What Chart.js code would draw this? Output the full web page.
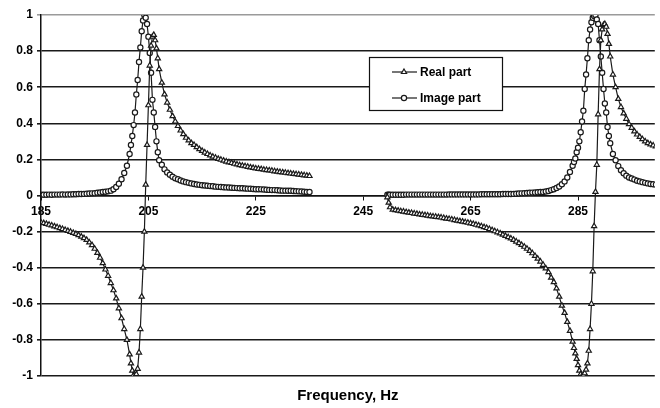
<!DOCTYPE html>
<html>
<head>
<meta charset="utf-8">
<title>Frequency response</title>
<script src="https://cdn.jsdelivr.net/npm/chart.js"></script>
<style>
  html, body { margin: 0; padding: 0; background: #fff; }
  #wrap { width: 660px; height: 408px; position: relative; }
</style>
</head>
<body>
<div id="wrap"><canvas id="chart"></canvas></div>
<script>
'use strict';

/* ---- data: two resonance sweeps, shared frequency grid per sweep ---------- */
const freqA = [
  185, 185.5, 186, 186.5, 187, 187.5, 188, 188.5, 189, 189.5,
  190, 190.5, 191, 191.5, 192, 192.5, 193, 193.5, 194, 194.5,
  195, 195.5, 196, 196.5, 197, 197.5, 198, 198.5, 199, 199.5,
  200, 200.5, 201, 201.5,
  201.75, 202, 202.25, 202.5, 202.75, 203, 203.25, 203.5, 203.75, 204,
  204.25, 204.5, 204.75, 205, 205.25, 205.5, 205.75, 206, 206.25, 206.5,
  206.75, 207,
  207.5, 208, 208.5, 209, 209.5, 210, 210.5, 211, 211.5, 212,
  212.5, 213, 213.5, 214, 214.5, 215, 215.5, 216, 216.5, 217,
  217.5, 218, 218.5, 219, 219.5, 220, 220.5, 221, 221.5, 222,
  222.5, 223, 223.5, 224, 224.5, 225, 225.5, 226, 226.5, 227,
  227.5, 228, 228.5, 229, 229.5, 230, 230.5, 231, 231.5, 232,
  232.5, 233, 233.5, 234, 234.5, 235
];
const realA = [
  -0.150, -0.153, -0.157, -0.162, -0.166, -0.171, -0.176, -0.181, -0.186, -0.191,
  -0.196, -0.201, -0.207, -0.213, -0.220, -0.228, -0.236, -0.246, -0.260, -0.275,
  -0.295, -0.318, -0.345, -0.375, -0.410, -0.445, -0.485, -0.525, -0.570, -0.625,
  -0.680, -0.740, -0.800, -0.880,
  -0.930, -0.970, -0.995, -1.000, -0.990, -0.960, -0.870, -0.740, -0.560, -0.400,
  -0.200, 0.060, 0.280, 0.500, 0.720, 0.830, 0.880, 0.890, 0.860, 0.815,
  0.760, 0.700,
  0.625, 0.560, 0.515, 0.475, 0.440, 0.410, 0.385, 0.360, 0.340, 0.320,
  0.305, 0.290, 0.280, 0.268, 0.257, 0.247, 0.238, 0.230, 0.222, 0.215,
  0.209, 0.203, 0.198, 0.193, 0.188, 0.184, 0.180, 0.176, 0.172, 0.168,
  0.165, 0.162, 0.159, 0.156, 0.153, 0.150, 0.148, 0.146, 0.143, 0.141,
  0.139, 0.137, 0.134, 0.132, 0.130, 0.128, 0.126, 0.124, 0.122, 0.120,
  0.118, 0.116, 0.114, 0.112, 0.110, 0.108
];
const imagA = [
  0.004, 0.004, 0.004, 0.005, 0.004, 0.005, 0.005, 0.005, 0.006, 0.005,
  0.006, 0.006, 0.007, 0.007, 0.008, 0.008, 0.009, 0.010, 0.011, 0.012,
  0.013, 0.015, 0.017, 0.019, 0.021, 0.023, 0.027, 0.035, 0.047, 0.065,
  0.090, 0.125, 0.165, 0.230,
  0.280, 0.330, 0.390, 0.460, 0.560, 0.640, 0.740, 0.820, 0.910, 0.970,
  1.000, 0.985, 0.950, 0.880, 0.790, 0.680, 0.530, 0.460, 0.380, 0.300,
  0.240, 0.195,
  0.170, 0.145, 0.128, 0.115, 0.104, 0.095, 0.090, 0.083, 0.078, 0.074,
  0.070, 0.067, 0.064, 0.061, 0.059, 0.057, 0.055, 0.054, 0.052, 0.051,
  0.049, 0.048, 0.047, 0.046, 0.045, 0.044, 0.043, 0.042, 0.041, 0.040,
  0.040, 0.039, 0.038, 0.037, 0.036, 0.035, 0.035, 0.034, 0.033, 0.032,
  0.031, 0.030, 0.030, 0.029, 0.028, 0.027, 0.027, 0.026, 0.026, 0.025,
  0.024, 0.023, 0.022, 0.021, 0.020, 0.019
];

const freqB = [
  249.5, 249.75,
  250, 250.5, 251, 251.5, 252, 252.5, 253, 253.5, 254, 254.5,
  255, 255.5, 256, 256.5, 257, 257.5, 258, 258.5, 259, 259.5,
  260, 260.5, 261, 261.5, 262, 262.5, 263, 263.5, 264, 264.5,
  265, 265.5, 266, 266.5, 267, 267.5, 268, 268.5, 269, 269.5,
  270, 270.5, 271, 271.5, 272, 272.5, 273, 273.5, 274, 274.5,
  275, 275.5, 276, 276.5, 277, 277.5, 278, 278.5, 279, 279.5,
  280, 280.5, 281, 281.5, 282, 282.5, 283, 283.5, 284,
  284.25, 284.5, 284.75, 285, 285.25, 285.5, 285.75, 286,
  286.25, 286.5, 286.75, 287, 287.25, 287.5, 287.75, 288,
  288.25, 288.5, 288.75, 289, 289.25, 289.5, 289.75, 290,
  290.25, 290.5, 290.75, 291,
  291.5, 292, 292.5, 293, 293.5, 294, 294.5, 295, 295.5, 296,
  296.5, 297, 297.5, 298, 298.5, 299, 299.5
];
const realB = [
  -0.010, -0.040,
  -0.065, -0.078, -0.081, -0.084, -0.087, -0.089, -0.092, -0.095, -0.097, -0.100,
  -0.102, -0.105, -0.107, -0.109, -0.111, -0.114, -0.116, -0.118, -0.120, -0.122,
  -0.125, -0.128, -0.130, -0.133, -0.136, -0.139, -0.142, -0.145, -0.148, -0.151,
  -0.154, -0.158, -0.162, -0.166, -0.170, -0.175, -0.180, -0.186, -0.192, -0.198,
  -0.204, -0.210, -0.217, -0.224, -0.231, -0.238, -0.246, -0.255, -0.264, -0.274,
  -0.284, -0.295, -0.307, -0.320, -0.335, -0.350, -0.366, -0.384, -0.404, -0.425,
  -0.455, -0.480, -0.515, -0.560, -0.610, -0.650, -0.700, -0.750, -0.810,
  -0.845, -0.875, -0.905, -0.940, -0.970, -0.990, -1.000, -0.995,
  -0.985, -0.965, -0.930, -0.860, -0.740, -0.600, -0.420, -0.170,
  0.020, 0.170, 0.450, 0.700, 0.860, 0.920, 0.945, 0.950,
  0.935, 0.895, 0.840, 0.770,
  0.670, 0.600, 0.535, 0.490, 0.455, 0.425, 0.395, 0.375, 0.355, 0.338,
  0.325, 0.312, 0.300, 0.290, 0.283, 0.277, 0.272
];
const imagB = [
  0.004, 0.004,
  0.004, 0.004, 0.004, 0.004, 0.004, 0.004, 0.005, 0.005, 0.005, 0.005,
  0.005, 0.005, 0.005, 0.005, 0.005, 0.005, 0.005, 0.005, 0.005, 0.005,
  0.005, 0.005, 0.006, 0.006, 0.006, 0.006, 0.006, 0.006, 0.006, 0.006,
  0.006, 0.006, 0.006, 0.006, 0.007, 0.007, 0.007, 0.007, 0.007, 0.007,
  0.007, 0.007, 0.008, 0.008, 0.008, 0.008, 0.009, 0.010, 0.011, 0.012,
  0.013, 0.014, 0.015, 0.016, 0.017, 0.018, 0.019, 0.020, 0.022, 0.025,
  0.030, 0.035, 0.042, 0.050, 0.062, 0.078, 0.100, 0.130, 0.165,
  0.185, 0.205, 0.240, 0.265, 0.300, 0.350, 0.410, 0.470,
  0.590, 0.670, 0.760, 0.860, 0.920, 0.960, 0.985, 0.995,
  1.000, 0.975, 0.950, 0.860, 0.770, 0.680, 0.590, 0.510,
  0.460, 0.380, 0.330, 0.290,
  0.230, 0.195, 0.163, 0.140, 0.123, 0.110, 0.100, 0.094, 0.088, 0.082,
  0.078, 0.074, 0.070, 0.067, 0.064, 0.062, 0.060
];

const GAP_FREQ = 242;                 // break between the two sweeps
const xTicks = [185, 205, 225, 245, 265, 285];
const yTicks = [-1, -0.8, -0.6, -0.4, -0.2, 0, 0.2, 0.4, 0.6, 0.8, 1];
const seriesNames = ['Real part', 'Image part'];

/* ---- helpers -------------------------------------------------------------- */
const FONT = '"Liberation Sans", Arial, sans-serif';
const INK = '#1a1a1a';

function pairs(fa, va, fb, vb){
  const out = fa.map((x, i) => ({ x, y: va[i] }));
  out.push({ x: GAP_FREQ, y: null });
  fb.forEach((x, i) => out.push({ x, y: vb[i] }));
  return out;
}

/* boxed legend sitting inside the plot, Excel style */
const boxLegend = {
  id: 'boxLegend',
  afterDraw(chart){
    const ctx = chart.ctx;
    const bx = 369.5, by = 57.5, bw = 133, bh = 53;
    ctx.save();
    ctx.fillStyle = '#fff';
    ctx.fillRect(bx, by, bw, bh);
    ctx.strokeStyle = '#111';
    ctx.lineWidth = 1.2;
    ctx.strokeRect(bx, by, bw, bh);
    chart.data.datasets.forEach((ds, i) => {
      const y = 72 + i * 26, cx = 404;
      ctx.strokeStyle = ds.borderColor;
      ctx.lineWidth = 1.2;
      ctx.beginPath(); ctx.moveTo(392, y); ctx.lineTo(417, y); ctx.stroke();
      ctx.fillStyle = '#fff';
      ctx.beginPath();
      if (ds.pointStyle === 'triangle'){
        const r = ds.pointRadius;
        ctx.moveTo(cx, y - r);
        ctx.lineTo(cx + r * 0.866, y + r * 0.5);
        ctx.lineTo(cx - r * 0.866, y + r * 0.5);
        ctx.closePath();
      } else {
        ctx.arc(cx, y, ds.pointRadius, 0, Math.PI * 2);
      }
      ctx.fill(); ctx.stroke();
      ctx.fillStyle = '#000';
      ctx.font = 'bold 12px ' + FONT;
      ctx.textBaseline = 'middle';
      ctx.textAlign = 'left';
      ctx.fillText(ds.label, 420, y + 0.5);
    });
    ctx.restore();
  }
};

/* ---- chart ---------------------------------------------------------------- */
new Chart(document.getElementById('chart'), {
  type: 'line',
  data: {
    datasets: [
      { label: seriesNames[0], data: pairs(freqA, realA, freqB, realB),
        borderColor: INK, borderWidth: 1.2, pointStyle: 'triangle', pointRadius: 3,
        pointBackgroundColor: '#fff', pointBorderColor: INK, pointBorderWidth: 1.2 },
      { label: seriesNames[1], data: pairs(freqA, imagA, freqB, imagB),
        borderColor: INK, borderWidth: 1.2, pointStyle: 'circle', pointRadius: 2.6,
        pointBackgroundColor: '#fff', pointBorderColor: INK, pointBorderWidth: 1.2 },
    ]
  },
  options: {
    responsive: true, maintainAspectRatio: false, animation: false,
    layout: { padding: { top: 15, right: 0, bottom: 0, left: 0 } },
    elements: { line: { tension: 0 } },
    scales: {
      x: {
        type: 'linear', min: 185, max: 299.3, position: { y: 0 },
        afterBuildTicks: (s) => { s.ticks = xTicks.map(v => ({ value: v })); },
        grid: { drawOnChartArea: false, drawTicks: true, tickLength: 4, color: '#111' },
        border: { display: true, color: '#111', width: 1.5 },
        ticks: { color: '#000', font: { family: FONT, size: 12, weight: 'bold' },
                 padding: 5, maxRotation: 0, callback: (v) => String(v) },
      },
      y: {
        min: -1, max: 1, position: 'left',
        afterBuildTicks: (s) => { s.ticks = yTicks.map(v => ({ value: v })); },
        afterFit: (s) => { s.width = 41; },
        grid: { color: (c) => c.tick && c.tick.value === 1 ? '#9a9a9a' : '#1a1a1a',
                lineWidth: 1.6, tickLength: 4 },
        border: { display: true, color: '#111', width: 1.5 },
        ticks: { color: '#000', font: { family: FONT, size: 12, weight: 'bold' },
                 padding: 4, callback: (v) => String(v) },
      },
    },
    plugins: {
      legend: { display: false },
      tooltip: { enabled: false },
      title: { display: true, position: 'bottom', fullSize: false, text: 'Frequency, Hz',
               color: '#000', font: { family: FONT, size: 15, weight: 'bold' },
               padding: { top: 11, bottom: 3 } },
    },
  },
  plugins: [boxLegend],
});
</script>
</body>
</html>
